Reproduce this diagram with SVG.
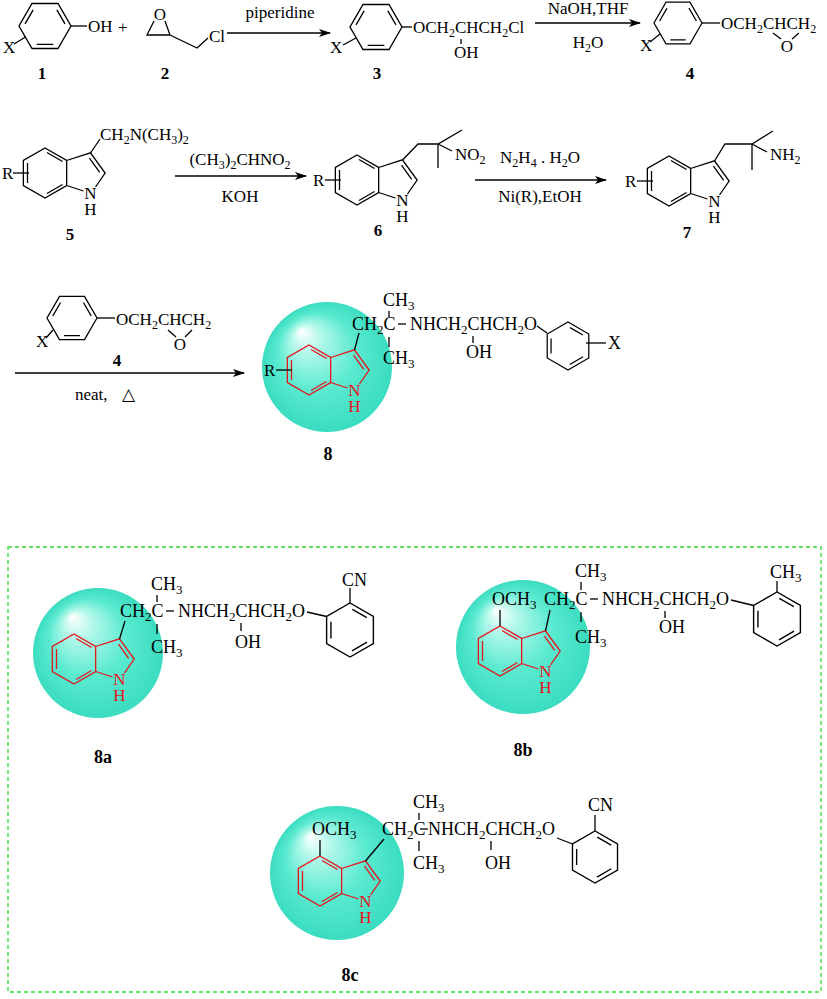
<svg xmlns="http://www.w3.org/2000/svg" xmlns:xlink="http://www.w3.org/1999/xlink" width="827" height="999" viewBox="0 0 827 999">
<style>
text{font-family:"Liberation Serif","Times New Roman",serif;font-size:17px;fill:#000}
.b{font-size:18px}
.lbl{font-weight:bold;text-anchor:middle}
.m{text-anchor:middle}
.s{font-size:12px;baseline-shift:-4px}
.bs{font-size:13px;baseline-shift:-4px}
.red{fill:#e8141b}
line,polyline,.ln{fill:none;stroke-width:1.3}
.k{stroke:#000}
.ahd{fill:#000;stroke:none}
</style>
<defs>
<marker id="ah" markerWidth="12" markerHeight="8" refX="11" refY="4" orient="auto" markerUnits="userSpaceOnUse"><path class="ahd" d="M0,0 L12,4 L0,8 L3,4 Z"/></marker>
<radialGradient id="sph" cx="0.5" cy="0.5" r="0.5" fx="0.3" fy="0.22">
<stop offset="0" stop-color="#ffffff"/><stop offset="0.22" stop-color="#b4f8ea"/><stop offset="0.6" stop-color="#5aead0"/><stop offset="1" stop-color="#3adcc0"/>
</radialGradient>
<g id="ph"><path class="ln" d="M25,0 L12.5,21.65 L-12.5,21.65 L-25,0 L-12.5,-21.65 L12.5,-21.65 Z M-19.2,-2.1 L-11.4,-15.5 M11.4,-15.5 L19.2,-2.1 M8,17.65 L-8,17.65"/></g>
<g id="ind"><path class="ln" d="M0,-25 L21.65,-12.5 L21.65,12.5 L0,25 L-21.65,12.5 L-21.65,-12.5 Z M-17.5,-10 L-17.5,10 M2,-20.5 L17.5,-11.5 M17.5,11.5 L2,20.5 M21.65,-12.5 L45.45,-20.2 L60.15,0 L50.5,14 M21.65,12.5 L38.5,18 M44.5,-14.8 L54.7,-0.6"/></g>
</defs>
<rect width="827" height="999" fill="#fff"/>

<g id="connectors">
<line class="k" x1="227" y1="33" x2="330" y2="33" marker-end="url(#ah)"/>
<line class="k" x1="535" y1="23" x2="640" y2="23" marker-end="url(#ah)"/>
<line class="k" x1="175" y1="176" x2="306" y2="176" marker-end="url(#ah)"/>
<line class="k" x1="475" y1="180" x2="606" y2="180" marker-end="url(#ah)"/>
<line class="k" x1="15" y1="373" x2="244" y2="373" marker-end="url(#ah)"/>
</g>

<g id="reagents">
<text class="m" x="280" y="18">piperidine</text>
<text class="m" x="588" y="14">NaOH,THF</text>
<text class="m" x="588" y="48">H<tspan class="s">2</tspan>O</text>
<text class="m" x="240" y="165">(CH<tspan class="s">3</tspan>)<tspan class="s">2</tspan>CHNO<tspan class="s">2</tspan></text>
<text class="m" x="240" y="202">KOH</text>
<text class="m" x="540" y="163">N<tspan class="s">2</tspan>H<tspan class="s">4</tspan> . H<tspan class="s">2</tspan>O</text>
<text class="m" x="540" y="202">Ni(R),EtOH</text>
<text x="75" y="400">neat,</text>
<text x="122" y="400" style="font-family:'DejaVu Sans',sans-serif;font-size:17px">△</text>
</g>

<g id="c1">
<use href="#ph" class="k" transform="translate(45,26) scale(1.04)"/>
<line class="k" x1="71" y1="26" x2="87" y2="26"/>
<text x="88" y="32">OH</text>
<line class="k" x1="14" y1="44" x2="25.5" y2="37"/>
<text x="3" y="53">X</text>
<text x="118" y="33">+</text>
<text class="lbl" x="42" y="79">1</text>
</g>
<g id="c2">
<text class="m" x="160" y="20">O</text>
<path class="k ln" d="M154,21 L147,35 L170,35 L165,21 M170,35 L197,48 L208,38"/>
<text x="209" y="42">Cl</text>
<text class="lbl" x="165" y="79">2</text>
</g>
<g id="c3">
<use href="#ph" class="k" transform="translate(376,27) scale(1.04)"/>
<line class="k" x1="343" y1="45" x2="356" y2="38"/>
<text x="330" y="53">X</text>
<line class="k" x1="402" y1="27" x2="412" y2="27"/>
<text x="413" y="33">OCH<tspan class="s">2</tspan>CHCH<tspan class="s">2</tspan>Cl</text>
<line class="k" x1="461" y1="39" x2="461" y2="44"/>
<text x="454" y="58">OH</text>
<text class="lbl" x="377" y="79">3</text>
</g>
<g id="c4">
<use href="#ph" class="k" transform="translate(678,23) scale(0.96)"/>
<line class="k" x1="650" y1="42" x2="660" y2="34"/>
<text x="640" y="51">X</text>
<line class="k" x1="702" y1="23" x2="720" y2="23"/>
<text x="721" y="29">OCH<tspan class="s">2</tspan>CHCH<tspan class="s">2</tspan></text>
<path class="k ln" d="M773,33 L781,39 M799,33 L792,39"/>
<text class="m" x="787" y="52">O</text>
<text class="lbl" x="690" y="79">4</text>
</g>

<g id="c5">
<use href="#ind" class="k" transform="translate(45,173)"/>
<text class="m" x="90.5" y="199">N</text><text class="m" x="90.5" y="215">H</text>
<line class="k" x1="13" y1="173" x2="29" y2="173"/>
<text x="2" y="179">R</text>
<line class="k" x1="90.5" y1="153" x2="100" y2="139"/>
<text x="100" y="140">CH<tspan class="s">2</tspan>N(CH<tspan class="s">3</tspan>)<tspan class="s">2</tspan></text>
<text class="lbl" x="70" y="240">5</text>
</g>
<g id="c6">
<use href="#ind" class="k" transform="translate(357,180)"/>
<text class="m" x="402.5" y="206">N</text><text class="m" x="402.5" y="222">H</text>
<line class="k" x1="325" y1="180" x2="341" y2="180"/>
<text x="313" y="186">R</text>
<path class="k ln" d="M402.5,160 L418,144 L438,144 L462,130 M438,144 L438,168 M438,144 L452,151"/>
<text x="455" y="160">NO<tspan class="s">2</tspan></text>
<text class="lbl" x="378" y="236">6</text>
</g>
<g id="c7">
<use href="#ind" class="k" transform="translate(669,181)"/>
<text class="m" x="714.5" y="207">N</text><text class="m" x="714.5" y="223">H</text>
<line class="k" x1="637" y1="181" x2="653" y2="181"/>
<text x="625" y="187">R</text>
<path class="k ln" d="M714.5,161 L725,144 L752,144 L773,131 M752,144 L752,170 M752,144 L767,152"/>
<text x="770" y="160">NH<tspan class="s">2</tspan></text>
<text class="lbl" x="687" y="238">7</text>
</g>

<g id="c4b">
<use href="#ph" class="k" transform="translate(72,318)"/>
<line class="k" x1="46" y1="338" x2="53" y2="330"/>
<text x="36" y="347">X</text>
<line class="k" x1="97" y1="318" x2="115" y2="318"/>
<text x="116" y="325">OCH<tspan class="s">2</tspan>CHCH<tspan class="s">2</tspan></text>
<path class="k ln" d="M168,330 L176,337 M192,330 L185,337"/>
<text class="m" x="180" y="350">O</text>
<text class="lbl" x="117" y="366">4</text>
</g>

<g id="c8">
<circle cx="327" cy="367" r="65" fill="url(#sph)"/>
<use href="#ind" stroke="#e8141b" transform="translate(309,370)"/>
<text class="m red" x="354.5" y="396">N</text><text class="m red" x="354.5" y="412">H</text>
<line class="k" x1="276" y1="370" x2="292" y2="370"/>
<text x="264" y="376">R</text>
<line class="k" x1="354.5" y1="350" x2="359" y2="333"/>
<text class="b" x="352" y="330">CH<tspan class="bs">2</tspan>C</text>
<text class="b" x="383" y="306">CH<tspan class="bs">3</tspan></text>
<line class="k" x1="389" y1="311" x2="389" y2="317"/>
<line class="k" x1="389" y1="337" x2="389" y2="347"/>
<text class="b" x="383" y="364">CH<tspan class="bs">3</tspan></text>
<line class="k" x1="398" y1="324" x2="406" y2="324"/>
<text class="b" x="410" y="330">NHCH<tspan class="bs">2</tspan>CHCH<tspan class="bs">2</tspan>O</text>
<line class="k" x1="473" y1="336" x2="473" y2="343"/>
<text class="b" x="466" y="358">OH</text>
<line class="k" x1="537" y1="326" x2="547" y2="333"/>
<use href="#ph" class="k" transform="translate(568,346) rotate(-30) scale(0.96)"/>
<line class="k" x1="586" y1="343" x2="606" y2="343"/>
<text class="b" x="608" y="349">X</text>
<text class="lbl b" x="328" y="460">8</text>
</g>

<rect x="8" y="547" width="813" height="445" fill="none" stroke="#33dd33" stroke-width="1.3" stroke-dasharray="4,3"/>

<g id="c8a">
<circle cx="98" cy="653" r="65" fill="url(#sph)"/>
<use href="#ind" stroke="#e8141b" transform="translate(74,659)"/>
<text class="m red" x="119.5" y="685">N</text><text class="m red" x="119.5" y="701">H</text>
<line class="k" x1="119.5" y1="639" x2="125" y2="621"/>
<text class="b" x="120" y="617">CH<tspan class="bs">2</tspan>C</text>
<text class="b" x="151" y="590">CH<tspan class="bs">3</tspan></text>
<line class="k" x1="157" y1="595" x2="157" y2="602"/>
<line class="k" x1="157" y1="624" x2="157" y2="634"/>
<text class="b" x="151" y="653">CH<tspan class="bs">3</tspan></text>
<line class="k" x1="166" y1="611" x2="174" y2="611"/>
<text class="b" x="178" y="617">NHCH<tspan class="bs">2</tspan>CHCH<tspan class="bs">2</tspan>O</text>
<line class="k" x1="241" y1="623" x2="241" y2="631"/>
<text class="b" x="235" y="648">OH</text>
<line class="k" x1="307" y1="612" x2="326.6" y2="616.5"/>
<use href="#ph" class="k" transform="translate(350,630) rotate(-30) scale(1.08)"/>
<line class="k" x1="350" y1="603" x2="350" y2="588"/>
<text class="b" x="342" y="586">CN</text>
<text class="lbl b" x="103" y="763">8a</text>
</g>

<g id="c8b">
<circle cx="523" cy="647" r="67" fill="url(#sph)"/>
<use href="#ind" stroke="#e8141b" transform="translate(500,651)"/>
<text class="m red" x="545.5" y="677">N</text><text class="m red" x="545.5" y="693">H</text>
<line class="k" x1="500" y1="626" x2="500" y2="610"/>
<text class="b" x="492" y="605">OCH<tspan class="bs">3</tspan></text>
<line class="k" x1="545.5" y1="631" x2="550" y2="610"/>
<text class="b" x="544" y="605">CH<tspan class="bs">2</tspan>C</text>
<text class="b" x="575" y="577">CH<tspan class="bs">3</tspan></text>
<line class="k" x1="581" y1="582" x2="581" y2="590"/>
<line class="k" x1="581" y1="612" x2="581" y2="622"/>
<text class="b" x="575" y="643">CH<tspan class="bs">3</tspan></text>
<line class="k" x1="590" y1="599" x2="598" y2="599"/>
<text class="b" x="602" y="605">NHCH<tspan class="bs">2</tspan>CHCH<tspan class="bs">2</tspan>O</text>
<line class="k" x1="665" y1="611" x2="665" y2="618"/>
<text class="b" x="659" y="633">OH</text>
<line class="k" x1="731" y1="600" x2="753.6" y2="605.5"/>
<use href="#ph" class="k" transform="translate(777,619) rotate(-30) scale(1.08)"/>
<line class="k" x1="777" y1="592" x2="777" y2="581"/>
<text class="b" x="770" y="578">CH<tspan class="bs">3</tspan></text>
<text class="lbl b" x="523" y="756">8b</text>
</g>

<g id="c8c">
<circle cx="337" cy="873" r="67" fill="url(#sph)"/>
<use href="#ind" stroke="#e8141b" transform="translate(320,881)"/>
<text class="m red" x="365.5" y="907">N</text><text class="m red" x="365.5" y="923">H</text>
<line class="k" x1="320" y1="856" x2="320" y2="840"/>
<text class="b" x="312" y="835">OCH<tspan class="bs">3</tspan></text>
<line class="k" x1="365.5" y1="861" x2="384" y2="839"/>
<text class="b" x="382" y="835">CH<tspan class="bs">2</tspan>C</text>
<text class="b" x="413" y="808">CH<tspan class="bs">3</tspan></text>
<line class="k" x1="419" y1="813" x2="419" y2="820"/>
<line class="k" x1="419" y1="841" x2="419" y2="851"/>
<text class="b" x="413" y="869">CH<tspan class="bs">3</tspan></text>
<line class="k" x1="420" y1="829" x2="428" y2="829"/>
<text class="b" x="428" y="835">NHCH<tspan class="bs">2</tspan>CHCH<tspan class="bs">2</tspan>O</text>
<line class="k" x1="491" y1="841" x2="491" y2="850"/>
<text class="b" x="485" y="869">OH</text>
<line class="k" x1="557" y1="838" x2="572.5" y2="844"/>
<use href="#ph" class="k" transform="translate(595,857) rotate(-30) scale(1.04)"/>
<line class="k" x1="595" y1="831" x2="595" y2="815"/>
<text class="b" x="588" y="811">CN</text>
<text class="lbl b" x="350" y="981">8c</text>
</g>
</svg>
